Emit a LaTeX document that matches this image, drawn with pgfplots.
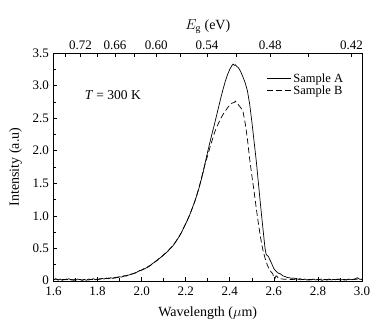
\documentclass[border=0pt]{standalone}
\usepackage{fontspec}
\setmainfont{Liberation Serif}
\usepackage{pgfplots}
\pgfplotsset{compat=1.18}
\usetikzlibrary{calc}
\begin{document}
\begin{tikzpicture}
\begin{axis}[name=ax, scale only axis, width=308.5pt, height=228pt,
  xmin=1.6, xmax=3.0, ymin=0, ymax=3.5,
  xtick={1.6,1.8,2.0,2.2,2.4,2.6,2.8,3.0},
  xticklabels={1.6,1.8,2.0,2.2,2.4,2.6,2.8,3.0},
  ytick={0,0.5,1.0,1.5,2.0,2.5,3.0,3.5},
  yticklabels={\raisebox{2pt}{0},0.5,1.0,1.5,2.0,2.5,3.0,3.5},
  minor x tick num=1, minor y tick num=1,
  xtick pos=bottom, ytick pos=left,
  tick align=inside,
  major tick length=4pt, minor tick length=2.5pt,
  axis line style={line width=0.7pt}, every tick/.style={line width=0.6pt, black},
  tick label style={font=\fontsize{13}{15}\selectfont},
  xticklabel style={yshift=-2pt},
  yticklabel style={xshift=-1pt},
  label style={font=\fontsize{14}{16}\selectfont},
  xlabel={Wavelength ($\mu$m)},
  ylabel={Intensity (a.u)},
  xlabel style={yshift=-5pt},
  ylabel style={yshift=4pt},
  legend style={draw=none, fill=none, font=\fontsize{12.5}{14}\selectfont, at={(rel axis cs:0.69,0.92)}, anchor=north west, row sep=-2pt, inner sep=0pt},
  legend cell align=left,
  legend image code/.code={\draw[#1] (0cm,0cm) -- (0.85cm,0cm);},
]
\addplot[black, line width=0.7pt] table {
1.600 0.02
1.610 0.035
1.620 0.015
1.630 0.03
1.640 0.01
1.650 0.025
1.660 0.02
1.670 0.035
1.680 0.015
1.690 0.02
1.700 0.01
1.710 0.03
1.720 0.02
1.730 0.015
1.740 0.025
1.750 0.01
1.760 0.03
1.770 0.02
1.780 0.035
1.790 0.02
1.800 0.03
1.810 0.025
1.820 0.04
1.830 0.03
1.840 0.045
1.850 0.035
1.860 0.05
1.870 0.04
1.880 0.055
1.890 0.05
1.900 0.065
1.910 0.06
1.920 0.08
1.930 0.075
1.940 0.09
1.950 0.10
1.960 0.11
1.970 0.12
1.980 0.14
1.990 0.155
2.000 0.17
2.010 0.18
2.020 0.20
2.030 0.215
2.040 0.24
2.050 0.27
2.060 0.29
2.070 0.32
2.080 0.345
2.090 0.37
2.100 0.40
2.110 0.43
2.120 0.46
2.130 0.50
2.140 0.53
2.150 0.58
2.160 0.63
2.170 0.68
2.180 0.74
2.190 0.81
2.200 0.88
2.210 0.95
2.220 1.03
2.230 1.12
2.240 1.21
2.250 1.31
2.260 1.42
2.270 1.55
2.280 1.68
2.290 1.84
2.300 1.99
2.310 2.13
2.320 2.27
2.330 2.40
2.340 2.54
2.350 2.68
2.360 2.82
2.370 2.95
2.380 3.07
2.390 3.17
2.400 3.25
2.410 3.31
2.415 3.33
2.420 3.31
2.425 3.32
2.430 3.30
2.440 3.27
2.450 3.21
2.460 3.13
2.470 3.04
2.480 2.92
2.490 2.72
2.500 2.45
2.510 2.15
2.520 1.85
2.530 1.50
2.540 1.15
2.550 0.82
2.560 0.50
2.565 0.41
2.570 0.39
2.575 0.38
2.580 0.34
2.590 0.27
2.600 0.19
2.610 0.15
2.620 0.12
2.630 0.11
2.640 0.08
2.650 0.07
2.660 0.055
2.670 0.05
2.680 0.04
2.690 0.045
2.700 0.035
2.710 0.03
2.720 0.035
2.730 0.02
2.740 0.03
2.750 0.015
2.760 0.025
2.770 0.02
2.780 0.03
2.790 0.015
2.800 0.025
2.810 0.02
2.820 0.01
2.830 0.025
2.840 0.02
2.850 0.03
2.860 0.015
2.870 0.025
2.880 0.02
2.890 0.03
2.900 0.015
2.910 0.02
2.920 0.025
2.930 0.015
2.940 0.03
2.950 0.02
2.960 0.025
2.970 0.035
2.980 0.05
2.990 0.025
3.000 0.03
};
\addlegendentry{Sample A}
\addplot[black, line width=0.7pt, dash pattern=on 6pt off 3pt] table {
1.600 0.015
1.610 0.03
1.620 0.02
1.630 0.01
1.640 0.025
1.650 0.02
1.660 0.03
1.670 0.015
1.680 0.025
1.690 0.01
1.700 0.03
1.710 0.02
1.720 0.025
1.730 0.01
1.740 0.02
1.750 0.03
1.760 0.015
1.770 0.025
1.780 0.02
1.790 0.03
1.800 0.02
1.810 0.035
1.820 0.03
1.830 0.04
1.840 0.035
1.850 0.045
1.860 0.04
1.870 0.05
1.880 0.045
1.890 0.06
1.900 0.06
1.910 0.07
1.920 0.075
1.930 0.085
1.940 0.09
1.950 0.105
1.960 0.11
1.970 0.125
1.980 0.135
1.990 0.16
2.000 0.165
2.010 0.19
2.020 0.20
2.030 0.225
2.040 0.24
2.050 0.265
2.060 0.295
2.070 0.315
2.080 0.35
2.090 0.37
2.100 0.405
2.110 0.43
2.120 0.465
2.130 0.50
2.140 0.535
2.150 0.58
2.160 0.63
2.170 0.685
2.180 0.74
2.190 0.81
2.200 0.88
2.210 0.955
2.220 1.03
2.230 1.12
2.240 1.21
2.250 1.32
2.260 1.43
2.270 1.56
2.280 1.70
2.290 1.82
2.300 1.93
2.310 2.05
2.320 2.16
2.330 2.27
2.340 2.36
2.350 2.43
2.360 2.50
2.370 2.56
2.380 2.61
2.390 2.66
2.400 2.70
2.410 2.73
2.420 2.74
2.425 2.76
2.430 2.74
2.440 2.70
2.450 2.66
2.460 2.60
2.470 2.42
2.480 2.18
2.490 1.88
2.500 1.62
2.510 1.38
2.520 1.12
2.530 0.88
2.540 0.66
2.550 0.48
2.560 0.35
2.570 0.25
2.580 0.17
2.590 0.13
2.595 0.11
2.600 0.05
2.605 0.04
2.610 0.08
2.615 0.07
2.620 0.04
2.630 0.035
2.640 0.03
2.650 0.025
2.660 0.03
2.670 0.02
2.680 0.025
2.690 0.02
2.700 0.03
2.720 0.02
2.740 0.025
2.760 0.015
2.780 0.025
2.800 0.02
2.820 0.03
2.840 0.015
2.860 0.025
2.880 0.02
2.900 0.03
2.920 0.015
2.940 0.025
2.960 0.02
2.980 0.03
3.000 0.02
};
\addlegendentry{Sample B}
\node[anchor=west, font=\fontsize{13.5}{15}\selectfont] at (rel axis cs:0.09,0.815) {\textit{T} = 300 K};
\end{axis}
\begin{axis}[scale only axis, width=308.5pt, height=228pt,
  xmin=1.6, xmax=3.0, ymin=0, ymax=3.5,
  axis x line*=top, axis y line=none,
  xtick={1.65333,1.72222,1.79710,1.87879,1.96825,2.06667,2.17544,2.29630,2.43137,2.58333,2.75556,2.95238},
  xticklabels={,0.72,,0.66,,0.60,,0.54,,0.48,,0.42},
  tick align=inside, major tick length=4pt,
  axis line style={line width=0.7pt}, every tick/.style={line width=0.6pt, black},
  tick label style={font=\fontsize{13}{15}\selectfont},
  label style={font=\fontsize{14}{16}\selectfont},
  xlabel={$E_{\mathrm{g}}$ (eV)},
]
\end{axis}
\pgfresetboundingbox
\path[use as bounding box] ($(ax.south west)+(-53.5pt,-47pt)$) rectangle ($(ax.south west)+(332.5pt,281pt)$);
\end{tikzpicture}
\end{document}
